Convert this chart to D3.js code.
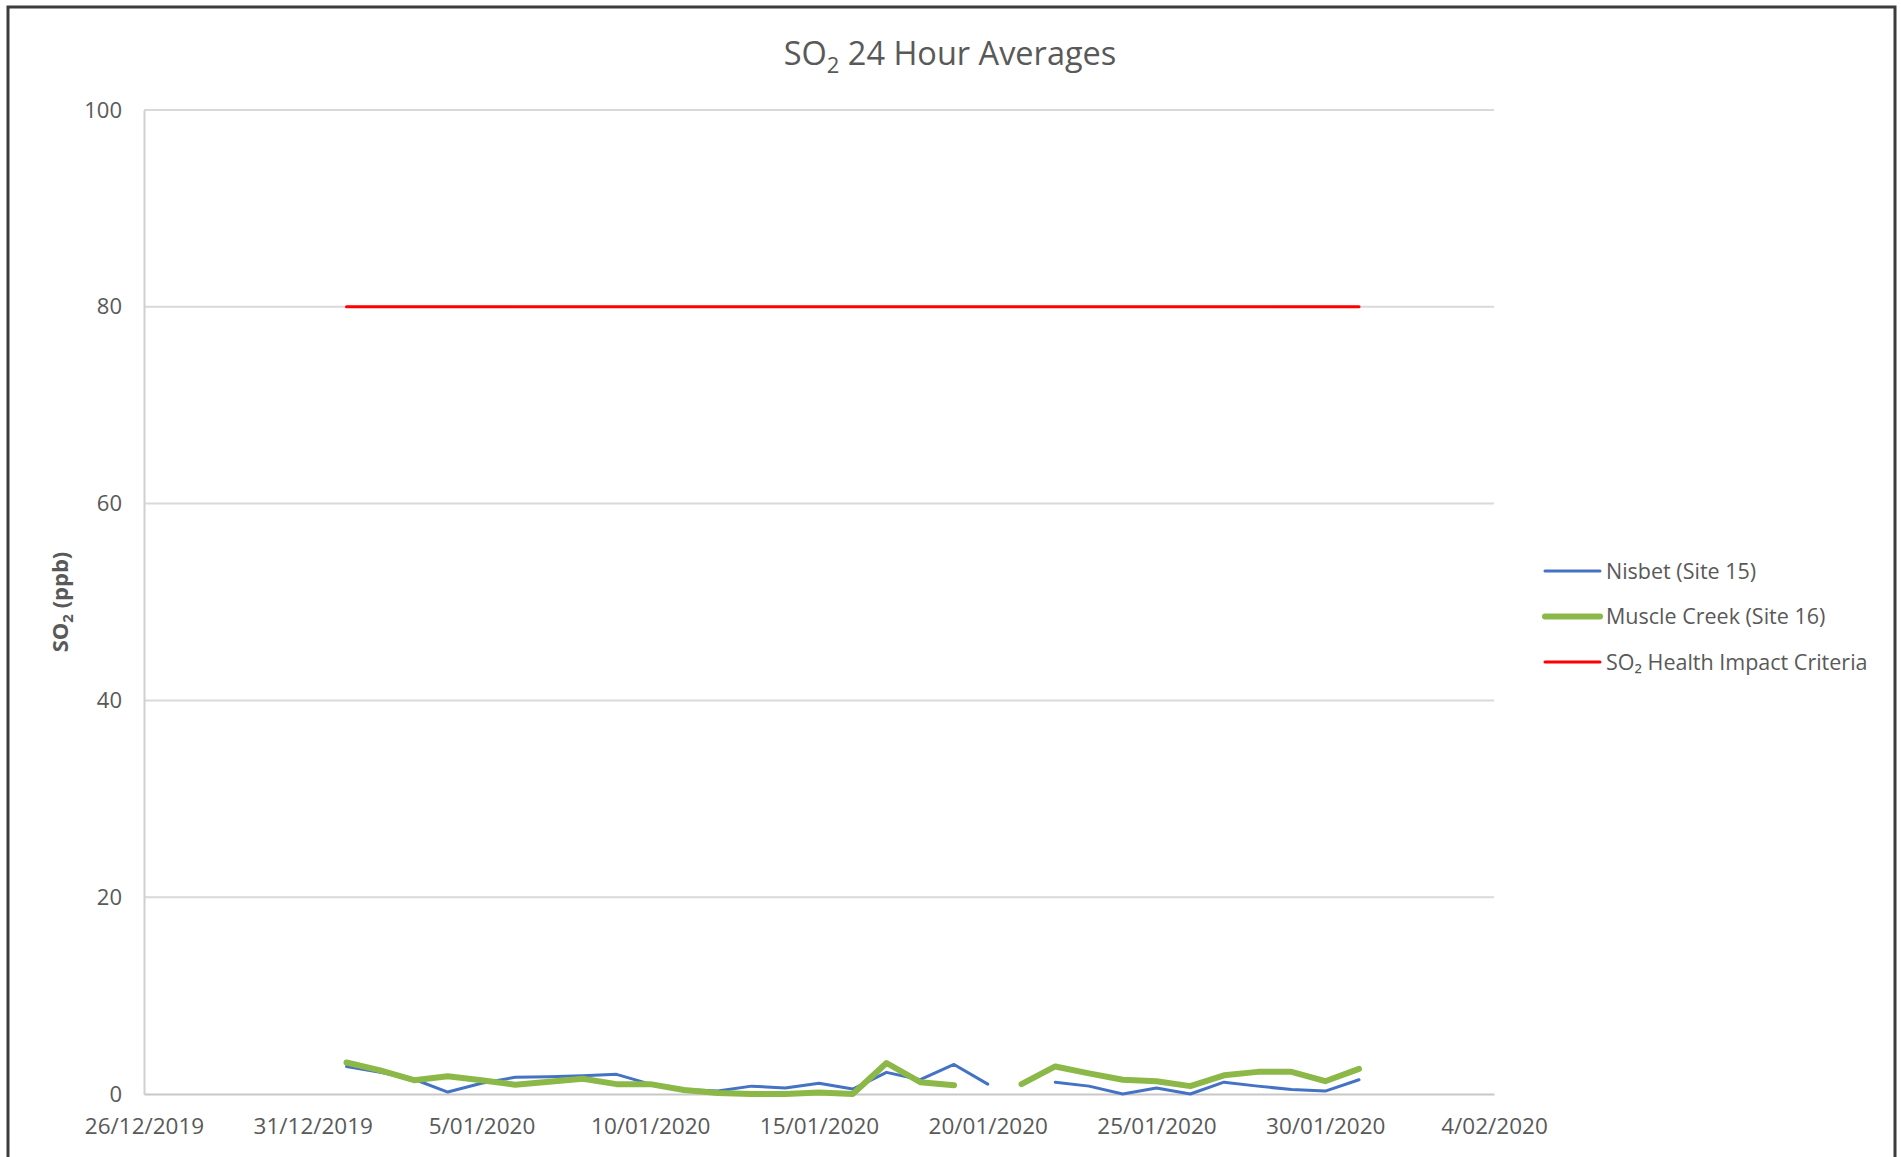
<!DOCTYPE html>
<html>
<head>
<meta charset="utf-8">
<script src="https://cdn.jsdelivr.net/npm/d3@7"></script>
<style>
  html, body { margin: 0; padding: 0; background: #fff; }
  svg { display: block; }
  text { font-family: "Open Sans", "Noto Sans", sans-serif; fill: #595959; }
</style>
</head>
<body>
<svg id="chart" width="1901" height="1157"></svg>
<script>
// Daily SO2 24-hour averages, January 2020 (ppb); null = no valid day
const days = d3.range(1, 32).map(d => new Date(Date.UTC(2020, 0, d)));
const nisbet = [2.8, 2.2, 1.5, 0.2, 1.1, 1.7, 1.75, 1.85, 2.0, 1.0,
                0.45, 0.3, 0.8, 0.6, 1.1, 0.5, 2.2, 1.45, 3.0, 1.0,
                null, 1.2, 0.8, 0.0, 0.6, 0.0, 1.2, 0.8, 0.45, 0.3, 1.45];
const muscleCreek = [3.2, 2.4, 1.4, 1.8, 1.4, 0.95, 1.25, 1.55, 1.0, 1.0,
                     0.4, 0.1, 0.0, 0.0, 0.15, 0.0, 3.15, 1.2, 0.9, null,
                     1.0, 2.8, 2.1, 1.45, 1.3, 0.8, 1.9, 2.25, 2.25, 1.3, 2.55];
const criteria = days.map(() => 80);

const xTickDates = ["2019-12-26", "2019-12-31", "2020-01-05", "2020-01-10", "2020-01-15",
                    "2020-01-20", "2020-01-25", "2020-01-30", "2020-02-04"].map(s => new Date(s + "T00:00:00Z"));
const yTicks = [0, 20, 40, 60, 80, 100];

const seriesDefs = [
  { name: "Nisbet (Site 15)", values: nisbet, color: "#4472c4", width: 3 },
  { name: "Muscle Creek (Site 16)", values: muscleCreek, color: "#8cb848", width: 6 },
  { name: "SO\u2082 Health Impact Criteria", values: criteria, color: "#ff0000", width: 3 }
];

const svg = d3.select("#chart");
svg.append("rect").attr("width", 1901).attr("height", 1157).attr("fill", "#fff");

// outer frame of the chart area
svg.append("rect")
  .attr("x", 8).attr("y", 7).attr("width", 1887).attr("height", 1220)
  .attr("fill", "none").attr("stroke", "#3c3c3c").attr("stroke-width", 3);

const plot = { left: 144, right: 1494, top: 110, bottom: 1094 };

const x = d3.scaleUtc()
  .domain([xTickDates[0], xTickDates[xTickDates.length - 1]])
  .range([plot.left, plot.right]);
const y = d3.scaleLinear().domain([0, 100]).range([plot.bottom, plot.top]);

// horizontal gridlines
svg.append("g")
  .selectAll("line")
  .data(yTicks.filter(t => t > 0))
  .join("line")
  .attr("x1", plot.left).attr("x2", plot.right)
  .attr("y1", d => y(d)).attr("y2", d => y(d))
  .attr("stroke", "#d9d9d9").attr("stroke-width", 2);

// y axis
const yAxis = svg.append("g")
  .attr("transform", `translate(${plot.left},0)`)
  .call(d3.axisLeft(y).tickValues(yTicks).tickSize(0).tickPadding(22));
yAxis.select(".domain").attr("stroke", "#d0d0d0").attr("stroke-width", 2);
yAxis.selectAll("text").style("font-size", "22px").attr("fill", "#595959")
  .style("font-family", "'Open Sans', sans-serif");

// x axis
const xAxis = svg.append("g")
  .attr("transform", `translate(0,${plot.bottom})`)
  .call(d3.axisBottom(x).tickValues(xTickDates).tickSize(0).tickPadding(24)
    .tickFormat(d3.utcFormat("%-d/%m/%Y")));
xAxis.select(".domain").attr("stroke", "#c8c8c8").attr("stroke-width", 2);
xAxis.selectAll("text").style("font-size", "22.5px").attr("fill", "#595959")
  .style("font-family", "'Open Sans', sans-serif");

// series lines
const line = d3.line()
  .defined(d => d.v !== null)
  .x(d => x(d.t))
  .y(d => y(d.v));

svg.append("g")
  .selectAll("path")
  .data(seriesDefs)
  .join("path")
  .attr("fill", "none")
  .attr("stroke", d => d.color)
  .attr("stroke-width", d => d.width)
  .attr("stroke-linejoin", "round")
  .attr("stroke-linecap", "round")
  .attr("d", d => line(d.values.map((v, i) => ({ t: days[i], v }))));

// title
const title = svg.append("text")
  .attr("x", 950).attr("y", 65)
  .attr("text-anchor", "middle")
  .style("font-size", "32.5px");
title.append("tspan").text("SO");
title.append("tspan").attr("dy", 8).style("font-size", "22px").text("2");
title.append("tspan").attr("dy", -8).text(" 24 Hour Averages");

// y axis title
const yTitle = svg.append("text")
  .attr("transform", `translate(68,${(plot.top + plot.bottom) / 2}) rotate(-90)`)
  .attr("text-anchor", "middle")
  .style("font-size", "22px").style("font-weight", "bold");
yTitle.append("tspan").text("SO");
yTitle.append("tspan").attr("dy", 5).style("font-size", "15px").text("2");
yTitle.append("tspan").attr("dy", -5).text(" (ppb)");

// legend
const legend = svg.append("g")
  .selectAll("g")
  .data(seriesDefs)
  .join("g")
  .attr("transform", (d, i) => `translate(1545,${571 + i * 45.5})`);
legend.append("line")
  .attr("x1", 0).attr("x2", 55)
  .attr("stroke", d => d.color)
  .attr("stroke-width", d => d.width)
  .attr("stroke-linecap", "round");
legend.append("text")
  .attr("x", 61).attr("dy", "0.35em")
  .style("font-size", "21.5px")
  .text(d => d.name);
</script>
</body>
</html>
